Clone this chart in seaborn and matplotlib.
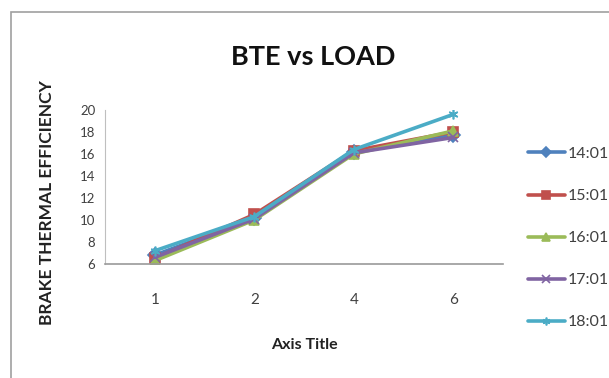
import matplotlib
matplotlib.use("Agg")
import matplotlib.pyplot as plt
import matplotlib.patches as mpatches
import seaborn as sns
import pandas as pd

# Load steps and measured brake thermal efficiency per time of day
loads = ["1", "2", "4", "6"]
series_names = ["14:01", "15:01", "16:01", "17:01", "18:01"]
bte_1401 = [6.8, 10.2, 16.2, 17.7]
bte_1501 = [6.5, 10.5, 16.3, 18.0]
bte_1601 = [6.3, 10.0, 16.0, 18.1]
bte_1701 = [6.6, 10.1, 16.1, 17.5]
bte_1801 = [7.2, 10.3, 16.4, 19.6]

all_series = [bte_1401, bte_1501, bte_1601, bte_1701, bte_1801]
rows = []
for name, vals in zip(series_names, all_series):
    for load, v in zip(loads, vals):
        rows.append({"load": load, "bte": v, "time": name})
df = pd.DataFrame(rows)

palette = ["#4F81BD", "#C0504D", "#9BBB59", "#8064A2", "#4BACC6"]
markers = ["D", "s", "^", "x", (6, 2, 0)]

sns.set_style("white")
plt.rcParams["font.family"] = ["Lato", "DejaVu Sans"]

fig = plt.figure(figsize=(6.09, 3.78), dpi=100)
ax = fig.add_axes([0.1724, 0.3016, 0.6535, 0.4074])

for name, color, mk in zip(series_names, palette, markers):
    sub = df[df["time"] == name]
    sns.lineplot(data=sub, x="load", y="bte", color=color, marker=mk,
                 linewidth=2.6, markersize=7, markeredgewidth=1.2,
                 markeredgecolor=color, sort=False, label=name, ax=ax)

ax.set_xlim(-0.5, len(loads) - 0.5)
ax.set_ylim(6, 20)
ax.set_yticks(range(6, 21, 2))
ax.set_xticks(range(len(loads)))
ax.set_xticklabels(loads)
ax.set_xticks([i - 0.5 for i in range(len(loads) + 1)], minor=True)
ax.tick_params(axis="x", which="major", length=0, pad=21,
               labelsize=11, labelcolor="#404040")
ax.tick_params(axis="x", which="minor", length=5, width=1,
               color="#BFBFBF", direction="out")
ax.tick_params(axis="y", which="major", length=4, width=1,
               color="#BFBFBF", direction="out", pad=3,
               labelsize=9.5, labelcolor="#404040")

for side in ["top", "right"]:
    ax.spines[side].set_visible(False)
ax.spines["left"].set_color("#BFBFBF")
ax.spines["bottom"].set_color("#9A9A9A")
ax.spines["bottom"].set_linewidth(1.2)
ax.set_xlabel("")
ax.set_ylabel("")

fig.text(0.515, 0.848, "BTE vs LOAD", ha="center", va="center",
         fontsize=19.5, fontweight="bold", color="#111111")
fig.text(0.50, 0.087, "Axis Title", ha="center", va="center",
         fontsize=11.5, fontweight="bold", color="#222222")
fig.text(0.077, 0.465, "BRAKE THERMAL EFFICIENCY", ha="center", va="center",
         rotation=90, fontsize=12.5, fontweight="bold", color="#222222")

leg = ax.legend(loc="center left", bbox_to_anchor=(0.867, 0.37),
                bbox_transform=fig.transFigure, frameon=False,
                fontsize=11.5, handlelength=2.3, handletextpad=0.17,
                labelspacing=1.75, borderpad=0, borderaxespad=0,
                markerscale=0.8)
for t in leg.get_texts():
    t.set_color("#404040")

# Chart-area frame
fig.patches.append(mpatches.Rectangle((0.018, -0.05), 1.0, 1.018,
                                      transform=fig.transFigure,
                                      fill=False, edgecolor="#A0A0A0",
                                      linewidth=1.2))

fig.savefig("out.png", dpi=100)
